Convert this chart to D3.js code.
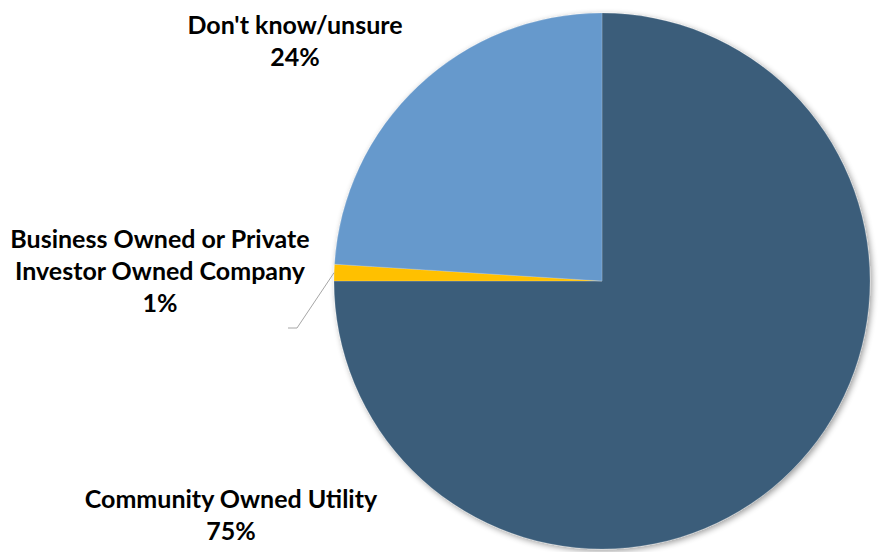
<!DOCTYPE html>
<html>
<head>
<meta charset="utf-8">
<script src="https://cdn.jsdelivr.net/npm/d3@7"></script>
<style>
  html, body { margin: 0; padding: 0; background: #fff; }
  svg { display: block; }
  text { font-family: Lato, "Open Sans", sans-serif; font-weight: 700; fill: #000; }
</style>
</head>
<body>
<svg id="chart" width="880" height="552"></svg>
<script>
// Survey responses: who should own the utility
const categories = ["Community Owned Utility", "Business Owned or Private Investor Owned Company", "Don't know/unsure"];
const values = [75, 1, 24];
const colors = ["#3A5D7A", "#FFC000", "#6699CC"];
// Label lines as displayed (name split over lines, then the percentage)
const labelLines = [
  ["Community Owned Utility"],
  ["Business Owned or Private", "Investor Owned Company"],
  ["Don't know/unsure"]
];

const width = 880, height = 552;
const cx = 602, cy = 281, radius = 268;

const svg = d3.select("#chart");

const defs = svg.append("defs");
const shadow = defs.append("filter").attr("id", "pieShadow")
  .attr("x", "-10%").attr("y", "-10%").attr("width", "120%").attr("height", "120%");
shadow.append("feGaussianBlur").attr("in", "SourceAlpha").attr("stdDeviation", 3).attr("result", "blur");
shadow.append("feOffset").attr("in", "blur").attr("dx", 2).attr("dy", 2).attr("result", "off");
shadow.append("feComponentTransfer").attr("in", "off").attr("result", "soft")
  .append("feFuncA").attr("type", "linear").attr("slope", 0.4);
const merge = shadow.append("feMerge");
merge.append("feMergeNode").attr("in", "soft");
merge.append("feMergeNode").attr("in", "SourceGraphic");

const data = categories.map((c, i) => ({ category: c, value: values[i], color: colors[i], lines: labelLines[i] }));

const pie = d3.pie().sort(null).value(d => d.value);
const arcs = pie(data);
const arc = d3.arc().innerRadius(0).outerRadius(radius);

const g = svg.append("g").attr("transform", `translate(${cx},${cy})`);
g.append("g").attr("filter", "url(#pieShadow)")
  .selectAll("path")
  .data(arcs)
  .join("path")
  .attr("d", arc)
  .attr("fill", d => d.data.color)
  .attr("stroke", "rgba(255,255,255,0.35)")
  .attr("stroke-width", 0.5);

// Label placement (page coordinates): center x and first baseline
const labelPos = [
  { x: 231, y: 508 },
  { x: 160, y: 248 },
  { x: 295, y: 34 }
];
const lineGap = 32;
const fmt = d3.format(".0%");
const total = d3.sum(values);

arcs.forEach((a, i) => {
  const p = labelPos[i];
  const t = svg.append("text")
    .attr("text-anchor", "middle")
    .attr("font-size", 25);
  const lines = a.data.lines.concat([fmt(a.data.value / total)]);
  lines.forEach((ln, k) => {
    t.append("tspan").attr("x", p.x).attr("y", p.y + k * lineGap).text(ln);
  });
});

// Leader line for the small slice
const small = arcs[1];
const mid = (small.startAngle + small.endAngle) / 2;
const start = [cx + radius * Math.sin(mid), cy - radius * Math.cos(mid)];
const elbow = [297, 328];
const end = [288, 328];
svg.append("path")
  .attr("d", d3.line()([start, elbow, end]))
  .attr("fill", "none")
  .attr("stroke", "#A6A6A6")
  .attr("stroke-width", 1);
</script>
</body>
</html>
